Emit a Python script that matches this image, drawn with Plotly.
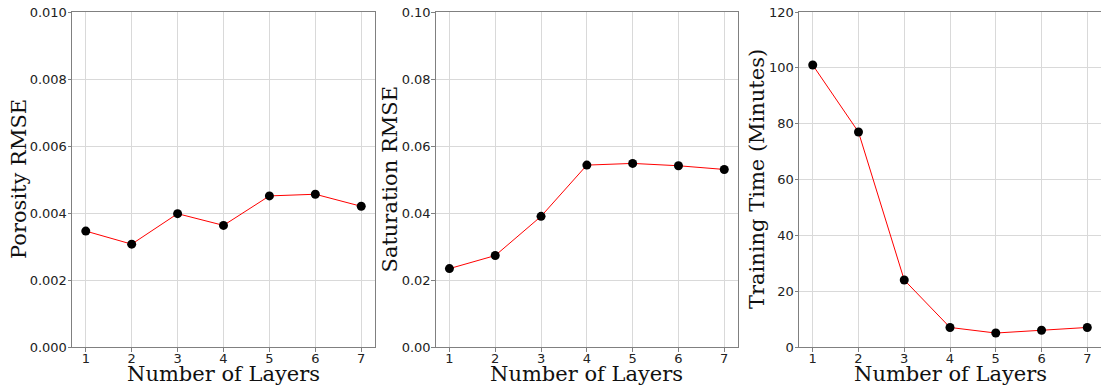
import plotly.graph_objects as go

layers = [1, 2, 3, 4, 5, 6, 7]
porosity_rmse = [0.00346, 0.00307, 0.00398, 0.00363, 0.00451, 0.00456, 0.00420]
saturation_rmse = [0.0234, 0.0273, 0.0390, 0.0543, 0.0548, 0.0541, 0.0530]
training_minutes = [101, 77, 24, 7, 5, 6, 7]

x_title = "Number of Layers"
y_titles = ["Porosity RMSE", "Saturation RMSE", "Training Time (Minutes)"]
y_ranges = [[0, 0.010], [0, 0.10], [0, 120]]
y_dticks = [0.002, 0.02, 20]
y_formats = [".3f", ".2f", "d"]
series = [porosity_rmse, saturation_rmse, training_minutes]

W, H = 1101, 389
x_domains = [[72 / W, 375 / W], [435.7 / W, 738 / W], [799 / W, 1.0]]
y_domain = [(H - 347) / H, (H - 12) / H]
y_title_x = [19.5, 390, 757.5]

title_font = dict(family="DejaVu Serif", size=21, color="#111111")

fig = go.Figure()
for i, (vals, title) in enumerate(zip(series, y_titles)):
    n = "" if i == 0 else str(i + 1)
    fig.add_trace(go.Scatter(
        x=layers, y=vals, mode="lines+markers",
        line=dict(color="#ff0000", width=1),
        marker=dict(color="black", size=9),
        xaxis="x" + n, yaxis="y" + n, showlegend=False,
    ))
    axis_common = dict(
        showgrid=True, gridcolor="#d9d9d9", gridwidth=1,
        showline=True, linecolor="#808080", linewidth=1, mirror=True,
        ticks="outside", ticklen=3.5, tickcolor="#808080",
        tickfont=dict(family="DejaVu Sans", size=13, color="#222222"),
        zeroline=False,
    )
    fig.layout["xaxis" + n] = dict(
        axis_common, domain=x_domains[i], anchor="y" + n,
        range=[0.7, 7.3], tickmode="array", tickvals=layers,
        ticklabelstandoff=-4,
    )
    fig.layout["yaxis" + n] = dict(
        axis_common, domain=y_domain, anchor="x" + n,
        range=y_ranges[i], dtick=y_dticks[i], tick0=0, tickformat=y_formats[i],
        ticklabelstandoff=-2,
    )
    fig.add_annotation(
        text=x_title, xref="paper", yref="paper",
        x=sum(x_domains[i]) / 2, y=(H - 374) / H,
        xanchor="center", yanchor="middle", showarrow=False, font=title_font,
    )
    fig.add_annotation(
        text=title, xref="paper", yref="paper",
        x=y_title_x[i] / W, y=sum(y_domain) / 2, textangle=-90,
        xanchor="center", yanchor="middle", showarrow=False, font=title_font,
    )

fig.update_layout(
    width=W, height=H,
    margin=dict(l=0, r=0, t=0, b=0, autoexpand=False),
    paper_bgcolor="white", plot_bgcolor="white",
)
fig.write_html("out.html")
